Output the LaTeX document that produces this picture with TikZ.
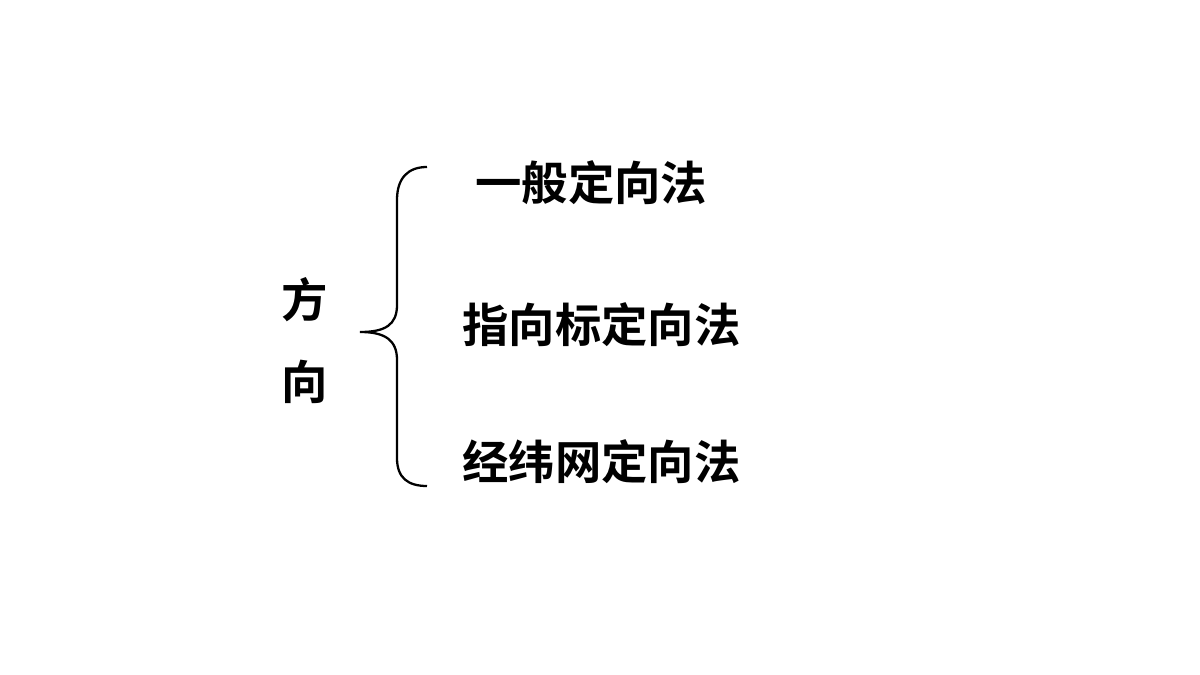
\documentclass[tikz,border=0pt]{standalone}
\usepackage{fontspec}
\newfontfamily\cjk{Noto Sans CJK SC}[BoldFont={Noto Sans CJK SC Bold}]
\usepackage{tikz}
\usetikzlibrary{positioning}

\tikzset{word/.style={inner sep=0pt, font=\cjk\bfseries\fontsize{26.4}{32}\selectfont}}

\begin{document}
\begin{tikzpicture}[x=0.02cm,y=-0.02cm]
	\useasboundingbox (0,0) rectangle (1200,675);
	\node[word] (fang) at (305,300) {方};
	\node[word] (xiang) at (305,382) {向};
	
	\draw[line width=1.3pt] (427,167) .. controls (408,167) and (397,178) .. (397,200) -- (397,305) .. controls (397,325) and (385,332) .. (360,332)
		.. controls (385,332) and (397,340) .. (397,360) -- (397,458) .. controls (397,478) and (408,486) .. (427,486);
	
	\node[word,anchor=west] (yiban) at (475,183) {一般定向法};
	\node[word,anchor=west] (zhixiang) at (462,325) {指向标定向法};
	\node[word,anchor=west] (jingwei) at (462,462) {经纬网定向法};
\end{tikzpicture}
\end{document}
